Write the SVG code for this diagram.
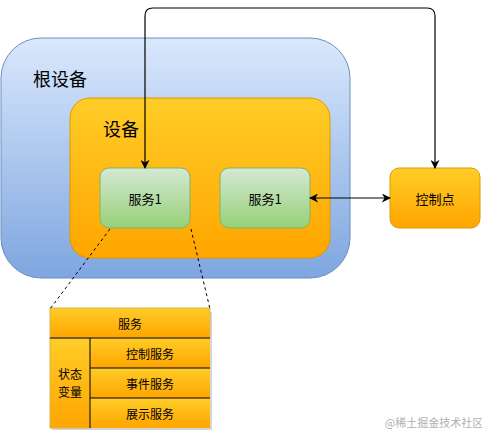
<svg xmlns="http://www.w3.org/2000/svg" width="482" height="433" viewBox="0 0 482 433">
<defs>
<linearGradient id="gBlue" x1="0" y1="0" x2="0" y2="1"><stop offset="0" stop-color="#dae8fc"/><stop offset="1" stop-color="#7ea6e0"/></linearGradient>
<linearGradient id="gOrange" x1="0" y1="0" x2="0" y2="1"><stop offset="0" stop-color="#ffcd28"/><stop offset="1" stop-color="#ffa500"/></linearGradient>
<linearGradient id="gGreen" x1="0" y1="0" x2="0" y2="1"><stop offset="0" stop-color="#d5e8d4"/><stop offset="1" stop-color="#97d077"/></linearGradient>
<marker id="arr" viewBox="0 0 10 10" refX="9" refY="5" markerWidth="9" markerHeight="9" orient="auto-start-reverse" markerUnits="userSpaceOnUse"><path d="M0,0 L10,5 L0,10 L3,5 Z" fill="#000"/></marker>
</defs>
<style>
text{font-family:"Noto Sans CJK SC","Noto Sans",sans-serif;fill:#000;}
.c{text-anchor:middle;dominant-baseline:central;}
.conn{fill:none;stroke:#000;stroke-width:1.2;}
.dash{fill:none;stroke:#000;stroke-width:1;stroke-dasharray:3,3;}
</style>
<rect width="482" height="433" fill="#fff"/>
<g id="root-device">
<rect x="1" y="38" width="349" height="240" rx="40" fill="url(#gBlue)" stroke="#6c8ebf"/>
<text x="33" y="78" font-size="18" dominant-baseline="central">根设备</text>
</g>
<g id="device">
<rect x="70" y="98" width="260" height="160" rx="20" fill="url(#gOrange)" stroke="#d79b00"/>
<text x="103" y="128" font-size="18" dominant-baseline="central">设备</text>
</g>
<g id="service1a">
<rect x="100" y="168" width="90" height="60" rx="9" fill="url(#gGreen)" stroke="#82b366"/>
<text x="145" y="198" font-size="13" class="c">服务1</text>
</g>
<g id="service1b">
<rect x="220" y="168" width="90" height="60" rx="9" fill="url(#gGreen)" stroke="#82b366"/>
<text x="265" y="198" font-size="13" class="c">服务1</text>
</g>
<g id="control-point">
<rect x="390" y="168" width="90" height="60" rx="9" fill="url(#gOrange)" stroke="#d79b00"/>
<text x="435" y="198" font-size="13" class="c">控制点</text>
</g>
<g id="service-table">
<rect x="52" y="312" width="160" height="118" fill="#999" opacity="0.4"/>
<rect x="50" y="308" width="160" height="30" fill="url(#gOrange)" stroke="#d6b656" stroke-width="1"/>
<text x="130" y="323" font-size="12" class="c">服务</text>
<rect x="50" y="338" width="40" height="90" fill="url(#gOrange)" stroke="#d6b656"/>
<text x="70" y="379" font-size="12" text-anchor="middle"><tspan x="70">状态</tspan><tspan x="70" dy="17.5">变量</tspan></text>
<rect x="90" y="338" width="120" height="30" fill="url(#gOrange)"/>
<rect x="90" y="368" width="120" height="30" fill="url(#gOrange)"/>
<rect x="90" y="398" width="120" height="30" fill="url(#gOrange)"/>
<path d="M50,338 H210 M90,338 V428 M90,368 H210 M90,398 H210" stroke="#000" stroke-width="1" fill="none"/>
<text x="150" y="353" font-size="12" class="c">控制服务</text>
<text x="150" y="383" font-size="12" class="c">事件服务</text>
<text x="150" y="413" font-size="12" class="c">展示服务</text>
</g>
<g id="connectors">
<path class="conn" d="M145,168 V16 Q145,8 153,8 H427 Q435,8 435,16 V168" marker-start="url(#arr)" marker-end="url(#arr)"/>
<path class="conn" d="M310,198 H390" marker-start="url(#arr)" marker-end="url(#arr)"/>
<path class="dash" d="M110,229 L50,309"/>
<path class="dash" d="M191,229 L210,309"/>
</g>
<text x="434" y="422" font-size="11" class="c" style="fill:#b0b0b0">@稀土掘金技术社区</text>
</svg>
